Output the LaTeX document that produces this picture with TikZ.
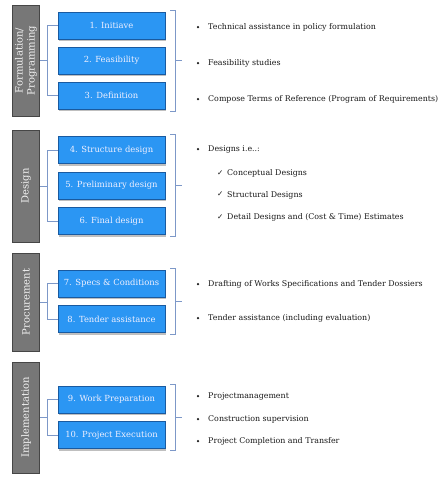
\documentclass[tikz,border=0pt]{standalone}
\usepackage{fontspec}
\setmainfont{DejaVu Serif}
\newfontfamily\symfnt{DejaVu Sans}
\usetikzlibrary{shadows,calc}
\definecolor{stepblue}{RGB}{43,150,243}
\definecolor{stepedge}{RGB}{25,90,160}
\definecolor{phasegray}{RGB}{119,119,119}
\definecolor{phaseedge}{RGB}{70,70,70}
\definecolor{linkblue}{RGB}{125,152,200}
\definecolor{txt}{RGB}{25,25,25}
\newcommand{\mybracket}[2]{%
  \draw[link] ([xshift=5pt,yshift=1.5pt]#1.north east) -- ([xshift=10pt,yshift=1.5pt]#1.north east)
    -- ([xshift=10pt,yshift=-1.5pt]#2.south east) -- ([xshift=5pt,yshift=-1.5pt]#2.south east);
  \draw[link] ($([xshift=10pt]#1.north east)!0.5!([xshift=10pt]#2.south east)$) -- ++(7,0);}
\newcommand{\myfork}[3]{%
  \draw[link] (#1.south) -- ([xshift=-10pt]#2.west |- #1.south);
  \draw[link] (#2.west) -- ++(-10,0) |- (#3.west);}
\begin{document}
\begin{tikzpicture}[x=1pt,y=-1pt,
  phase/.style={draw=phaseedge, line width=1pt, fill=phasegray, minimum height=27pt,
    text=white!90!gray, font=\fontsize{10}{12}\selectfont, inner sep=0pt, align=center, rotate=90},
  stepbox/.style={draw=stepedge, line width=0.8pt, fill=stepblue, minimum width=107pt,
    minimum height=27pt, inner sep=0pt, text=white!94!blue, font=\fontsize{8.4}{10}\selectfont,
    drop shadow={opacity=0.25, shadow xshift=1pt, shadow yshift=-2pt, fill=black}},
  link/.style={draw=linkblue, line width=0.8pt},
  item/.style={anchor=base west, font=\fontsize{7.9}{9}\selectfont, text=txt, inner sep=0pt},
  dot/.style={fill=txt}
]
\useasboundingbox (0,0) rectangle (443,480);
% phases
\node[phase, minimum width=111pt] (p1) at (26,60.5) {Formulation/\\Programming};
\node[phase, minimum width=112pt] (p2) at (26,186) {Design};
\node[phase, minimum width=98pt] (p3) at (26,302) {Procurement};
\node[phase, minimum width=111pt] (p4) at (26,417.5) {Implementation};
% steps
\node[stepbox] (s1) at (111.5,25.5) {1. Initiave};
\node[stepbox] (s2) at (111.5,60.5) {2. Feasibility};
\node[stepbox] (s3) at (111.5,95.5) {3. Definition};
\node[stepbox] (s4) at (111.5,150) {4. Structure design};
\node[stepbox] (s5) at (111.5,185.5) {5. Preliminary design};
\node[stepbox] (s6) at (111.5,221) {6. Final design};
\node[stepbox] (s7) at (111.5,283.5) {7. Specs \& Conditions};
\node[stepbox] (s8) at (111.5,319) {8. Tender assistance};
\node[stepbox] (s9) at (111.5,399.5) {9. Work Preparation};
\node[stepbox] (s10) at (111.5,435) {10. Project Execution};
% forks
\myfork{p1}{s1}{s3}
\myfork{p2}{s4}{s6}
\myfork{p3}{s7}{s8}
\myfork{p4}{s9}{s10}
% brackets
\mybracket{s1}{s3}
\mybracket{s4}{s6}
\mybracket{s7}{s8}
\mybracket{s9}{s10}
% texts (baselines)
\node[item] (t1) at (208,29.8) {Technical assistance in policy formulation};
\node[item] (t2) at (208,65.8) {Feasibility studies};
\node[item] (t3) at (208,101.8) {Compose Terms of Reference (Program of Requirements)};
\node[item] (t4) at (208,151.8) {Designs i.e..:};
\node[item] (c1) at (227,175.8) {Conceptual Designs};
\node[item] (c2) at (227,197.3) {Structural Designs};
\node[item] (c3) at (227,219.8) {Detail Designs and (Cost \& Time) Estimates};
\node[item] (t5) at (208,286.8) {Drafting of Works Specifications and Tender Dossiers};
\node[item] (t6) at (208,320.8) {Tender assistance (including evaluation)};
\node[item] (t7) at (208,398.8) {Projectmanagement};
\node[item] (t8) at (208,421.8) {Construction supervision};
\node[item] (t9) at (208,443.8) {Project Completion and Transfer};
\foreach \t in {t1,t2,t3,t4,t5,t6,t7,t8,t9}
  \fill[dot] ([xshift=-10pt,yshift=2.6pt]\t.base west) circle (1.25pt);
\foreach \c in {c1,c2,c3}
  \node[anchor=base east, inner sep=0pt, text=txt, font=\symfnt\fontsize{7.5}{8}\selectfont] at ([xshift=-3.5pt,yshift=0.5pt]\c.base west) {✓};
\end{tikzpicture}
\end{document}
